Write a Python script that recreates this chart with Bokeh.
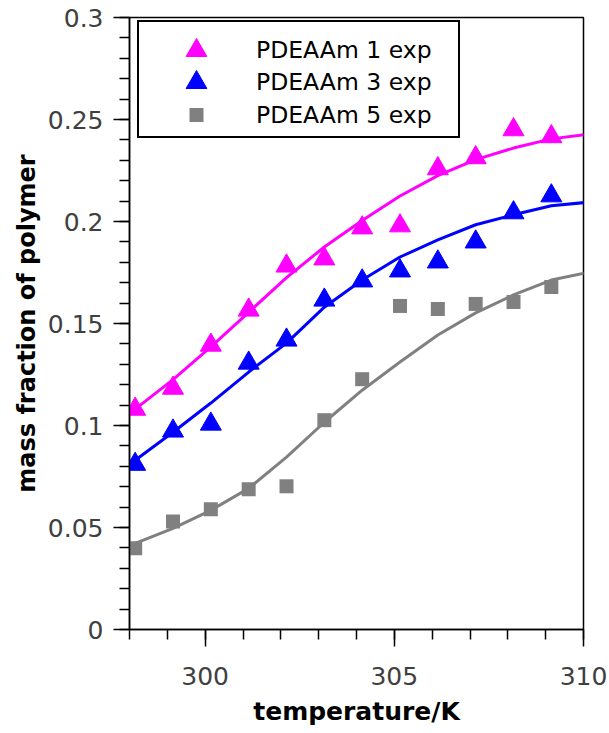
from bokeh.plotting import figure
from bokeh.models import (FixedTicker, CustomJSTickFormatter, Legend, LegendItem,
                          Range1d, ColumnDataSource)
from bokeh.embed import file_html
from bokeh.resources import INLINE

# ---- data ----
temperature = [298.15, 299.15, 300.15, 301.15, 302.15, 303.15,
               304.15, 305.15, 306.15, 307.15, 308.15, 309.15]
exp_1 = [0.108, 0.1183, 0.1394, 0.1566, 0.1782, 0.1817,
         0.1969, 0.1979, 0.2259, 0.2313, 0.2450, 0.2416]
exp_3 = [0.081, 0.0973, 0.1007, 0.1306, 0.1419, 0.1615,
         0.1709, 0.1758, 0.1802, 0.1900, 0.2043, 0.2126]
exp_5 = [0.0398, 0.0530, 0.0589, 0.0687, 0.0702, 0.1026,
         0.1227, 0.1586, 0.1571, 0.1596, 0.1605, 0.1679]

fit_temperature = [298.15, 299.15, 300.15, 301.15, 302.15, 303.15,
                   304.15, 305.15, 306.15, 307.15, 308.15, 309.15, 310.15]
fit_1 = [0.108, 0.1225, 0.1385, 0.1555, 0.1725, 0.1875,
         0.2005, 0.2125, 0.2225, 0.2303, 0.2360, 0.2405, 0.2428]
fit_3 = [0.083, 0.0967, 0.1110, 0.1262, 0.1404, 0.1580,
         0.1713, 0.1826, 0.1910, 0.1984, 0.2033, 0.2077, 0.2095]
fit_5 = [0.0422, 0.0496, 0.0584, 0.0692, 0.0845, 0.1016,
         0.1173, 0.1311, 0.1444, 0.1552, 0.1640, 0.1713, 0.1752]

series_labels = ["PDEAAm 1 exp", "PDEAAm 3 exp", "PDEAAm 5 exp"]
x_major_ticks = [300, 305, 310]
x_minor_ticks = [298, 299, 300, 301, 302, 303, 304, 305, 306, 307, 308, 309, 310]
y_major_ticks = [0, 0.05, 0.1, 0.15, 0.2, 0.25, 0.3]
y_minor_ticks = [round(0.01 * i, 2) for i in range(31)]

MAGENTA = "#ff00ff"
BLUE = "#0000ff"
GREY = "#808080"
FONT = "DejaVu Sans"

p = figure(width=609, height=733, output_backend="svg", toolbar_location=None,
           x_range=Range1d(298, 310), y_range=Range1d(0, 0.3),
           min_border_left=129, min_border_right=26,
           min_border_top=17, min_border_bottom=104,
           background_fill_color="white", border_fill_color="white")

p.xgrid.visible = False
p.ygrid.visible = False
p.outline_line_color = "black"
p.outline_line_width = 1.5
p.outline_line_alpha = 1

fit_src = ColumnDataSource(dict(t=fit_temperature, f1=fit_1, f3=fit_3, f5=fit_5))
exp_src = ColumnDataSource(dict(t=temperature, e1=exp_1, e3=exp_3, e5=exp_5))

p.line("t", "f1", source=fit_src, line_color=MAGENTA, line_width=3)
p.line("t", "f3", source=fit_src, line_color=BLUE, line_width=3)
p.line("t", "f5", source=fit_src, line_color=GREY, line_width=3)

r1 = p.scatter("t", "e1", source=exp_src, marker="triangle", size=21,
               fill_color=MAGENTA, line_color=MAGENTA, line_width=1)
r3 = p.scatter("t", "e3", source=exp_src, marker="triangle", size=21,
               fill_color=BLUE, line_color=BLUE, line_width=1)
r5 = p.scatter("t", "e5", source=exp_src, marker="square", size=14,
               fill_color=GREY, line_color=GREY, line_width=0)

# an empty renderer: used only so the framed legend box shows no swatch
blank = p.scatter(x=[], y=[], fill_alpha=0, line_alpha=0)

# legend frame (box only)
legend_box = Legend(items=[LegendItem(label=" ", renderers=[blank])],
                    location=(8, 491), margin=0, padding=0, spacing=0,
                    glyph_height=114, glyph_width=300, label_standoff=0,
                    label_width=19, label_text_font_size="1px",
                    border_line_color="black", border_line_width=2,
                    border_line_alpha=1,
                    background_fill_color="white", background_fill_alpha=1)
p.add_layout(legend_box)


def legend_row(label, renderer, bottom, glyph_h):
    return Legend(items=[LegendItem(label=label, renderers=[renderer])],
                  location=(8, bottom), margin=0, padding=0, spacing=0,
                  glyph_height=glyph_h, glyph_width=118, label_standoff=1,
                  label_width=200,
                  label_text_font=FONT, label_text_font_size="23.5px",
                  label_text_color="black",
                  border_line_alpha=0, background_fill_alpha=0)


p.add_layout(legend_row(series_labels[0], r1, 553, 52))
p.add_layout(legend_row(series_labels[1], r3, 521, 52))
p.add_layout(legend_row(series_labels[2], r5, 497, 35))

# axes
for ax in (p.xaxis[0], p.yaxis[0]):
    ax.axis_line_color = "black"
    ax.axis_line_width = 1.5
    ax.major_tick_in = 0
    ax.minor_tick_in = 0
    ax.minor_tick_out = 10
    ax.major_tick_line_color = "black"
    ax.minor_tick_line_color = "black"
    ax.major_tick_line_width = 1.5
    ax.minor_tick_line_width = 1.5
    ax.major_label_text_font = FONT
    ax.major_label_text_font_size = "25px"
    ax.major_label_text_color = "#404040"
    ax.axis_label_text_font = FONT
    ax.axis_label_text_font_style = "bold"
    ax.axis_label_text_color = "black"

p.xaxis.ticker = FixedTicker(ticks=x_major_ticks, minor_ticks=x_minor_ticks)
p.yaxis.ticker = FixedTicker(ticks=y_major_ticks, minor_ticks=y_minor_ticks)
p.yaxis.formatter = CustomJSTickFormatter(code="return String(parseFloat(tick.toFixed(2)));")

p.xaxis.major_tick_out = 17
p.yaxis.major_tick_out = 16
p.xaxis.major_label_standoff = 20
p.yaxis.major_label_standoff = 10
p.xaxis.axis_label = "temperature/K"
p.yaxis.axis_label = "mass fraction of polymer"
p.xaxis.axis_label_text_font_size = "25px"
p.yaxis.axis_label_text_font_size = "24px"
p.xaxis.axis_label_standoff = 9
p.yaxis.axis_label_standoff = 4

open("out.html", "w").write(file_html(p, INLINE))
